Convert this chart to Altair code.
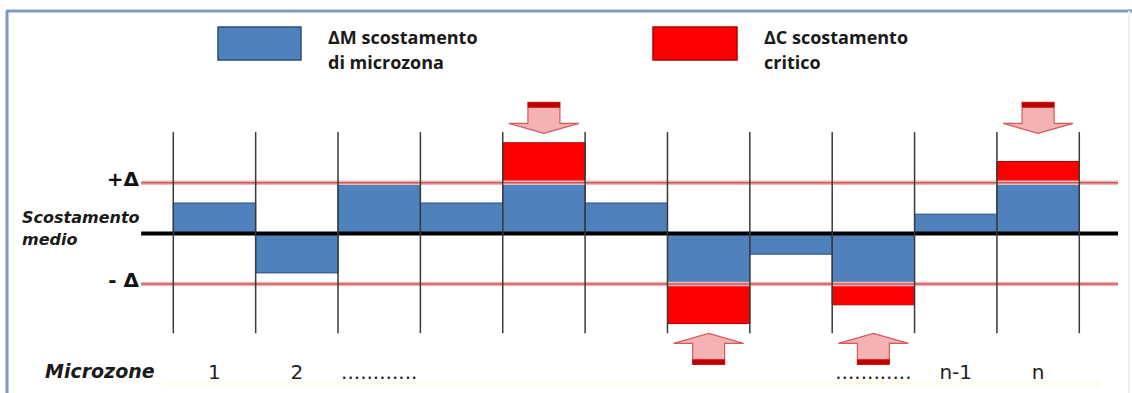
import altair as alt
import pandas as pd
import numpy as np

# ---- data ----
zones = list(range(1, 12))
deviation = [0.60, -0.78, 1.00, 0.60, 1.79, 0.60, -1.78, -0.41, -1.41, 0.38, 1.42]
delta = 1.0
zone_labels = ["1", "2", "............", "", "", "", "", "", "............", "n-1", "n"]
level_values = [delta, -delta]
level_labels = ["+Δ", "- Δ"]
legend_line1 = ["ΔM scostamento", "ΔC scostamento"]
legend_line2 = ["di microzona", "critico"]

BLUE = "#4f81bd"
BLUE_EDGE = "#2b4c7e"
RED = "#ff0000"
RED_EDGE = "#b00000"
PINK = "#f4b2b2"
PINK_EDGE = "#d45a5a"
CAP = "#c00000"

df = pd.DataFrame({"zone": zones, "dev": deviation, "label": zone_labels})
df["x0"] = df["zone"] - 1
df["x1"] = df["zone"]
df["xc"] = df["zone"] - 0.5
df["zero"] = 0.0
df["blue"] = df["dev"].clip(-delta, delta)
df["red0"] = np.sign(df["dev"]) * delta
df["arrow_y"] = np.sign(df["dev"]) * 2.28

bounds = pd.DataFrame({"b": list(range(0, 12))})
bounds["top"] = 2.0
bounds["bot"] = -1.97

levels = pd.DataFrame({"y": level_values + [0.0], "label": level_labels + [""]})
levels["xa"] = -0.39
levels["xb"] = 11.47

xs = alt.Scale(domain=[-2.104, 11.640], nice=False, zero=False)
ys = alt.Scale(domain=[-3.151, 4.608], nice=False, zero=False)

base = alt.Chart(df)

blue_bars = base.mark_rect(fill=BLUE, stroke=BLUE_EDGE, strokeWidth=1).encode(
    x=alt.X("x0:Q", scale=xs, axis=None), x2="x1:Q",
    y=alt.Y("blue:Q", scale=ys, axis=None), y2="zero:Q")

red_bars = base.transform_filter("abs(datum.dev) > %f" % delta).mark_rect(
    fill=RED, stroke=RED_EDGE, strokeWidth=1).encode(
    x=alt.X("x0:Q", scale=xs, axis=None), x2="x1:Q",
    y=alt.Y("dev:Q", scale=ys, axis=None), y2="red0:Q")

halo = alt.Chart(levels).transform_filter("datum.y != 0").mark_rule(
    color="#f0b8b8", strokeWidth=4.5).encode(
    x=alt.X("xa:Q", scale=xs, axis=None), x2="xb:Q",
    y=alt.Y("y:Q", scale=ys, axis=None))
core = alt.Chart(levels).transform_filter("datum.y != 0").mark_rule(
    color="#c85a5a", strokeWidth=1.5).encode(
    x=alt.X("xa:Q", scale=xs, axis=None), x2="xb:Q",
    y=alt.Y("y:Q", scale=ys, axis=None))
mean_line = alt.Chart(levels).transform_filter("datum.y == 0").mark_rule(
    color="#000000", strokeWidth=4).encode(
    x=alt.X("xa:Q", scale=xs, axis=None), x2="xb:Q",
    y=alt.Y("y:Q", scale=ys, axis=None))

vlines = alt.Chart(bounds).mark_rule(color="#3a3a3a", strokeWidth=1.5).encode(
    x=alt.X("b:Q", scale=xs, axis=None),
    y=alt.Y("top:Q", scale=ys, axis=None), y2="bot:Q")

down_path = "M -0.457 -0.443 L 0.457 -0.443 L 0.457 0.157 L 1 0.157 L 0 0.443 L -1 0.157 L -0.457 0.157 Z"
down_cap = "M -0.457 -0.443 L 0.457 -0.443 L 0.457 -0.3 L -0.457 -0.3 Z"
up_path = "M -0.457 0.443 L 0.457 0.443 L 0.457 -0.157 L 1 -0.157 L 0 -0.443 L -1 -0.157 L -0.457 -0.157 Z"
up_cap = "M -0.457 0.443 L 0.457 0.443 L 0.457 0.3 L -0.457 0.3 Z"


def arrow(cond, path, fill, stroke, sw):
    return base.transform_filter(cond).mark_point(
        shape=path, size=4900, filled=True, fill=fill, stroke=stroke,
        strokeWidth=sw, opacity=1).encode(
        x=alt.X("xc:Q", scale=xs, axis=None),
        y=alt.Y("arrow_y:Q", scale=ys, axis=None))


cond_up = "datum.dev > %f" % delta
cond_dn = "datum.dev < %f" % (-delta)
arrows = [
    arrow(cond_up, down_path, PINK, PINK_EDGE, 1.2),
    arrow(cond_up, down_cap, CAP, CAP, 0.5),
    arrow(cond_dn, up_path, PINK, PINK_EDGE, 1.2),
    arrow(cond_dn, up_cap, CAP, CAP, 0.5),
]

zone_text = base.mark_text(font="DejaVu Sans", fontSize=20, color="#222222",
                           baseline="alphabetic").encode(
    x=alt.X("xc:Q", scale=xs, axis=None), y=alt.value(379), text="label:N")

level_text = alt.Chart(levels).transform_filter("datum.y != 0").mark_text(
    font="DejaVu Sans", fontWeight="bold", fontSize=20, color="#111111",
    align="right", baseline="alphabetic", dy=3).encode(
    x=alt.value(139), y=alt.Y("y:Q", scale=ys, axis=None), text="label:N")

one = pd.DataFrame({"a": [0]})


def txt(t, x, y, **kw):
    d = pd.DataFrame({"t": [t]})
    return alt.Chart(d).mark_text(**kw).encode(
        x=alt.value(x), y=alt.value(y), text="t:N")


def box(x, x2, y, y2, **kw):
    return alt.Chart(one).mark_rect(**kw).encode(
        x=alt.value(x), x2=alt.value(x2), y=alt.value(y), y2=alt.value(y2))


def line(x, x2, y, y2, **kw):
    return alt.Chart(one).mark_rule(**kw).encode(
        x=alt.value(x), x2=alt.value(x2), y=alt.value(y), y2=alt.value(y2))


side = dict(font="DejaVu Sans", fontWeight="bold", fontStyle="italic",
            fontSize=16, color="#1a1a1a", align="left", baseline="alphabetic")
leg = dict(font="Open Sans", fontWeight="bold", fontSize=18, color="#1a1a1a",
           align="left", baseline="alphabetic")

annot = [
    box(165, 1100, 381, 387, fill="#fcfcf1"),
    line(6, 1132, 11, 11, color="#7d9cc4", strokeWidth=3),
    line(7, 7, 11, 393, color="#7d9cc4", strokeWidth=3),
    line(1129, 1129, 11, 393, color="#eaf0f8", strokeWidth=2),
    box(218, 301, 27, 60, fill=BLUE, stroke=BLUE_EDGE, strokeWidth=1.5),
    box(653, 737, 27, 60, fill=RED, stroke=RED_EDGE, strokeWidth=1.5),
    txt(legend_line1[0], 328, 44, **leg),
    txt(legend_line2[0], 328, 69, **leg),
    txt(legend_line1[1], 764, 44, **leg),
    txt(legend_line2[1], 764, 69, **leg),
    txt("Scostamento", 22, 223, **side),
    txt("medio", 22, 245, **side),
    txt("Microzone", 45, 378, **dict(side, fontSize=19)),
]

chart = alt.layer(
    *annot[:4], blue_bars, red_bars, halo, core, mean_line, vlines,
    *arrows, zone_text, level_text, *annot[4:]
).properties(
    width=1132, height=393, padding=0,
    autosize=alt.AutoSizeParams(type="none"), background="white"
).configure_view(stroke=None)

chart.save("out.html", embed_options={"renderer": "svg", "actions": False})
